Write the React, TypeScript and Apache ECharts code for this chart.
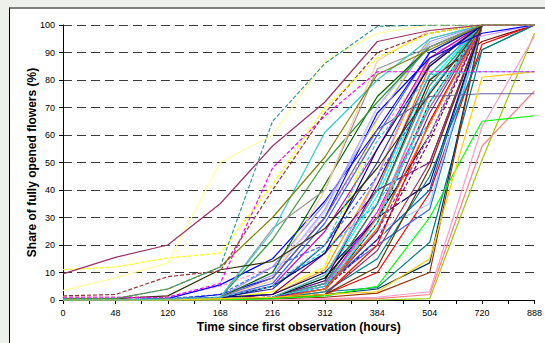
import React, { useEffect, useRef } from "react";
import * as echarts from "echarts";

// Observation times (hours) – x categories
const hours = ["0", "48", "120", "168", "216", "312", "384", "504", "720", "888"];

// Share of fully opened flowers (%) per plant, one value per observation time
const p01 = [9.5, 15.5, 20, 35, 56, 72, 94, 98, 100, 100];
const p02 = [0.5, 0.5, 4, 12, 65, 86, 99.5, 100, 100, 100];
const p03 = [3.5, 8, 13.5, 50, 60, 87, 97, 100, 100, 100];
const p04 = [11, 12, 15.3, 17, 42, 70, 88, 97, 100, 100];
const p05 = [1.5, 2, 8.5, 10.5, 40, 68, 90, 97, 100, 100];
const p06 = [0.8, 0.8, 1, 6, 48, 67, 83, 83, 83, 83];
const p07 = [0, 0, 0.3, 1, 5, 20, 58, 82, 83, 83];
const p08 = [0, 0, 0, 0.5, 1, 2, 3, 15, 81, 83];
const p09 = [0, 0, 0.5, 1, 8, 30, 62, 74, 75, 75];
const p10 = [0, 0, 0, 0, 0.5, 1.5, 5, 30, 65, 67];
const p11 = [0, 0, 0, 0, 0, 0.5, 1, 3, 63, 96];
const p12 = [0, 0, 0, 0, 0, 0.3, 0.5, 2, 56, 76];
const p13 = [0, 0, 0, 0, 0, 0, 0, 0.5, 51, 97];
const p14 = [0.5, 0.5, 4, 12, 30, 52, 82, 91, 100, 100];
const p15 = [0, 0.5, 1.5, 11, 14, 26, 48, 75, 100, 100];
const p16 = [0, 0, 0.5, 1, 25, 61, 80, 95, 100, 100];
const p17 = [0, 0, 0, 1, 7, 40, 87, 98, 100, 100];
const p18 = [0, 0, 0, 1, 26, 40, 84, 92, 100, 100];
const p19 = [0, 0, 0, 1, 22, 50, 72, 92, 100, 100];
const p20 = [0, 0, 0, 1, 10, 42, 74, 92, 100, 100];
const p21 = [0, 0, 0, 1, 12, 35, 66, 94, 100, 100];
const p22 = [0, 0, 0, 1, 10, 32, 70, 93, 100, 100];
const p23 = [0, 0, 0.5, 5.5, 15, 36, 62, 90, 100, 100];
const p24 = [0, 0, 0, 2, 8, 30, 68, 88, 97, 100];
const p25 = [0, 0, 0, 0.5, 5, 17, 55, 85, 100, 100];
const p26 = [0, 0, 0, 1, 4, 20, 50, 86, 100, 100];
const p27 = [0, 0, 0, 0.5, 3, 12, 66, 95, 100, 100];
const p28 = [0, 0, 0, 0.5, 2, 11, 45, 88, 100, 100];
const p29 = [0, 0, 0, 0.3, 1, 9, 40, 85, 100, 100];
const p30 = [0, 0, 0, 0.5, 1, 8, 38, 80, 100, 100];
const p31 = [0, 0, 0, 0.5, 1, 6, 30, 76, 100, 100];
const p32 = [0, 0, 0, 0, 0.5, 3, 15, 27, 100, 100];
const p33 = [0, 0, 0, 0.5, 2, 17, 40, 50, 100, 100];
const p34 = [0, 0, 0, 0.5, 1, 6, 35, 80, 94, 100];
const p35 = [0, 0, 0, 0, 0.5, 3, 4.5, 21, 91, 100];
const p36 = [0, 0, 0, 0, 0.5, 2, 10, 39, 93, 100];
const p37 = [0, 0, 0, 0, 0.5, 2, 4, 13.5, 100, 100];
const p38 = [0, 0, 0, 0, 0.3, 1, 2.5, 10, 100, 100];
const p39 = [0, 0, 0, 0.5, 1, 6, 20, 33, 100, 100];
const p40 = [0, 0, 0, 0.5, 1, 6, 25, 35, 100, 100];
const p41 = [0, 0, 0, 0.5, 1, 5, 22, 40, 100, 100];
const p42 = [0, 0, 0, 1, 2, 10, 30, 42.5, 100, 100];
const p43 = [0, 0, 0, 0.5, 1, 7, 45, 90, 96, 100];
const p44 = [0, 0, 0, 0.5, 1, 7, 42, 82, 100, 100];
const p45 = [0, 0, 0, 0.5, 1, 6, 35, 78, 100, 100];
const p46 = [0, 0, 0, 0, 0.5, 4, 28, 72, 100, 100];
const p47 = [0, 0, 0, 0.5, 1, 8, 30, 60, 100, 100];
const p48 = [0, 0, 0, 0.5, 1, 5, 32, 70, 100, 100];
const p49 = [0, 0, 0, 0, 0.5, 4, 25, 60, 100, 100];
const p50 = [0, 0, 0, 0, 0.5, 3, 20, 55, 100, 100];
const p51 = [0, 0, 0.5, 1, 5, 18, 35, 65, 100, 100];
const p52 = [0, 0, 0.5, 2, 12, 20, 45, 75, 100, 100];
const p53 = [0, 0, 0, 0.5, 1, 5, 25, 60, 100, 100];
const p54 = [1.2, 1.2, 1, 5, 12, 30, 60, 85, 100, 100];
const p55 = [0, 0, 0, 0.5, 1, 5, 30, 70, 100, 100];
const p56 = [0, 0, 0, 0, 0.5, 3, 30, 75, 100, 100];
const p57 = [0, 0, 0, 0.5, 1, 5, 28, 72, 100, 100];
const p58 = [0, 0, 0, 0, 0.3, 2, 20, 65, 100, 100];
const p59 = [0, 0, 0, 0.5, 1, 4, 25, 68, 100, 100];
const p60 = [0, 0, 0, 0.5, 1, 4, 22, 58, 100, 100];
const p61 = [0, 0, 0, 0.5, 0.5, 3, 15, 45, 91, 100];
const p62 = [0, 0, 0, 0.3, 0.5, 2, 18, 50, 100, 100];
const p63 = [0, 0, 0, 0, 0.5, 4, 26, 64, 100, 100];
const p64 = [0, 0, 0, 0.5, 1, 9, 40, 82, 100, 100];
const p65 = [0, 0, 0, 0, 0.5, 2, 12, 48, 100, 100];
const p66 = [0, 0, 0, 1, 5, 25, 55, 88, 100, 100];
const p67 = [0, 0, 0, 1, 6, 28, 60, 90, 100, 100];
const p68 = [0, 0, 0, 1, 9, 33, 70, 95, 100, 100];

// Drawing order: bulk first, distinctive curves last (on top)
const plants = [
  p27, p28, p29, p30, p31, p32, p33, p34, p35, p36, p37, p38, p39, p40, p41, p42,
  p43, p44, p45, p46, p47, p48, p49, p50, p51, p52, p53, p54, p55, p56, p57, p58,
  p59, p60, p61, p62, p63, p64, p65, p66, p67, p68,
  p26, p25, p24, p23, p22, p21, p20, p19, p18, p17, p16, p15, p14, p13, p12, p11,
  p10, p09, p08, p07, p06, p05, p04, p03, p02, p01,
];

const plantColors = [
  "#FFFF00", "#FF9900", "#FF6600", "#00FFFF", "#00CCFF", "#CCFFFF", "#800080", "#800000",
  "#008080", "#FF0000", "#003366", "#993300", "#3366FF", "#99CCFF", "#0066CC", "#000080",
  "#CC99FF", "#660066", "#339966", "#003300", "#000000", "#FF00FF", "#CCFFCC", "#FFFFCC",
  "#00CCFF", "#3366FF", "#9933CC", "#FF99CC", "#969696", "#FF8080", "#00FFFF", "#FF0000",
  "#663399", "#800080", "#008080", "#993366", "#FF6600", "#33CCCC", "#663300", "#CC00CC",
  "#3366FF", "#9999FF",
  "#333399", "#000080", "#0000FF", "#0000FF", "#CCCCFF", "#9999FF", "#006600", "#339933",
  "#969696", "#FFCC99", "#33CCCC", "#333300", "#808000", "#99CC00", "#FF8080", "#FF99CC",
  "#00FF00", "#666699", "#FFCC00", "#33CCCC", "#FF00FF", "#993333", "#FFFF00", "#FFFF99",
  "#339999", "#993366",
];

const plantDashed = [
  false, false, false, false, false, false, false, false,
  false, false, false, false, false, false, false, false,
  false, false, false, false, false, false, false, false,
  true, true, true, true, false, false, true, false,
  false, true, false, false, false, false, false, false,
  false, false,
  false, false, false, false, false, false, false, false,
  false, false, false, false, false, false, false, false,
  false, false, false, true, true, true, true, false,
  true, false,
];

const FONT = "Arial, 'Liberation Sans', sans-serif";

export default function App() {
  const ref = useRef<HTMLDivElement>(null);

  useEffect(() => {
    document.body.style.margin = "0";
    if (!ref.current) return;
    const chart = echarts.init(ref.current, null, { renderer: "svg" });
    const series = plants.map((vals, k) => ({
      type: "line",
      name: "Plant " + (k + 1),
      symbol: "none",
      silent: true,
      data: vals.map((v, i) => [i, v]),
      lineStyle: {
        width: 1.2,
        color: plantColors[k],
        type: plantDashed[k] ? [4, 2] : "solid",
      },
    }));
    chart.setOption({
      animation: false,
      backgroundColor: "transparent",
      textStyle: { fontFamily: FONT },
      grid: { left: 63, top: 25, width: 477, height: 275 },
      xAxis: {
        type: "value",
        min: 0,
        max: hours.length - 1,
        interval: 0.5,
        name: "Time since first observation (hours)",
        nameLocation: "middle",
        nameGap: 21,
        nameMoveOverlap: false,
        nameTextStyle: { fontFamily: FONT, fontSize: 12, fontWeight: "bold", color: "#000" },
        axisLine: { show: true, onZero: false, lineStyle: { color: "#000", width: 1 } },
        axisTick: { show: true, inside: false, length: 4, lineStyle: { color: "#000" } },
        axisLabel: {
          margin: 8,
          fontFamily: FONT,
          fontSize: 9,
          color: "#000",
          showMaxLabel: true,
          formatter: (v: number) => (Number.isInteger(v) ? hours[v] : ""),
        },
        splitLine: { show: false },
      },
      yAxis: {
        type: "value",
        min: 0,
        max: 100,
        interval: 10,
        name: "Share of fully opened flowers (%)",
        nameLocation: "middle",
        nameGap: 25,
        nameMoveOverlap: false,
        nameTextStyle: { fontFamily: FONT, fontSize: 12, fontWeight: "bold", color: "#000" },
        axisLine: { show: true, lineStyle: { color: "#000", width: 1 } },
        axisTick: { show: true, inside: false, length: 4, lineStyle: { color: "#000" } },
        axisLabel: { margin: 8, fontFamily: FONT, fontSize: 9, color: "#000" },
        splitLine: { show: true, lineStyle: { color: "#3a3a3a", width: 1, type: [9, 5] } },
      },
      series,
    });
    return () => chart.dispose();
  }, []);

  return (
    <div style={{ position: "relative", width: 545, height: 343, background: "#EEF0EB", overflow: "hidden" }}>
      <div
        style={{
          position: "absolute",
          left: 9,
          top: 7,
          width: 560,
          height: 360,
          background: "#FFFFFF",
          borderTop: "2px solid #7F7F7F",
          borderLeft: "1px solid #000000",
        }}
      />
      <div ref={ref} style={{ position: "absolute", left: 0, top: 0, width: 545, height: 343 }} />
    </div>
  );
}
